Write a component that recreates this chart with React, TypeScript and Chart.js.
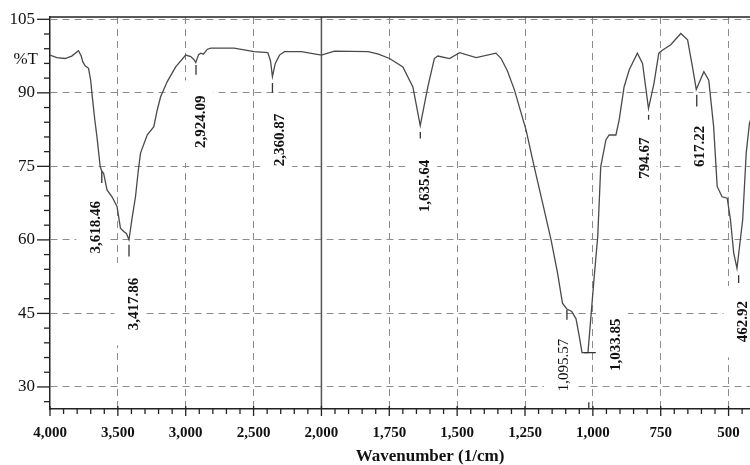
import { useEffect, useRef } from 'react';
import { Chart, LinearScale, registerables } from 'chart.js';

Chart.register(...registerables);

// Wavenumber axis: 4000-2000 compressed, below 2000 stretched x2 (usual FTIR layout)
const BREAK_AT = 2000;
const STRETCH = 2;

class SplitLinearScale extends LinearScale {
  static id = 'splitLinear';
  static defaults = LinearScale.defaults;

  span() {
    return (this.max - BREAK_AT) + STRETCH * (BREAK_AT - this.min);
  }

  getPixelForValue(value: number) {
    if (value === null || value === undefined || isNaN(value)) return NaN;
    const d = value >= BREAK_AT
      ? this.max - value
      : (this.max - BREAK_AT) + STRETCH * (BREAK_AT - value);
    return this.getPixelForDecimal(d / this.span());
  }

  getValueForPixel(pixel: number) {
    const d = this.getDecimalForPixel(pixel) * this.span();
    const head = this.max - BREAK_AT;
    return d <= head ? this.max - d : BREAK_AT - (d - head) / STRETCH;
  }
}
Chart.register(SplitLinearScale);

const FONT = '"Liberation Serif", "Times New Roman", serif';

// spectrum
const wavenumbers = [
  4000, 3950, 3889, 3840, 3790, 3770, 3758, 3741, 3716, 3700,
  3691, 3670, 3654, 3630, 3618, 3605, 3580, 3543, 3506, 3481,
  3457, 3437, 3418, 3395, 3370, 3350, 3333, 3284, 3235, 3210,
  3185, 3136, 3074, 3000, 2963, 2940, 2926, 2905, 2889, 2870,
  2840, 2815, 2644, 2496, 2395, 2375, 2361, 2340, 2309, 2272,
  2148, 2000, 1952, 1828, 1790, 1749, 1700, 1663, 1636, 1608,
  1584, 1571, 1528, 1491, 1430, 1357, 1338, 1315, 1289, 1246,
  1216, 1185, 1154, 1130, 1112, 1096, 1078, 1062, 1050, 1040,
  1018, 995, 982, 971, 952, 940, 915, 903, 885, 866,
  836, 817, 795, 775, 757, 744, 713, 676, 651, 633,
  619, 591, 573, 555, 542, 524, 505, 493, 481, 469,
  448, 435, 423, 417,
];
const transmittance = [
  97.7, 97.2, 97.0, 97.5, 98.6, 97.5, 96.3, 95.5, 95.0, 92.5,
  89.9, 84.5, 81.0, 74.9, 74.0, 73.6, 70.2, 68.8, 66.8, 62.4,
  61.7, 61.3, 60.0, 64.5, 68.8, 74.0, 77.7, 81.4, 83.1, 86.5,
  89.2, 92.3, 95.3, 97.7, 97.4, 96.8, 96.2, 97.8, 98.1, 97.9,
  98.9, 99.1, 99.1, 98.4, 98.2, 96.5, 93.3, 96.0, 97.7, 98.4,
  98.4, 97.7, 98.5, 98.4, 97.9, 97.0, 95.3, 91.2, 83.3, 91.2,
  97.0, 97.5, 97.0, 98.2, 97.2, 98.1, 97.0, 94.5, 90.6, 82.4,
  74.9, 67.5, 60.0, 53.2, 47.1, 45.9, 45.4, 43.9, 40.3, 37.0,
  37.0, 52.5, 60.7, 74.9, 80.4, 81.4, 81.4, 84.5, 91.2, 94.7,
  98.1, 96.0, 86.8, 91.9, 98.1, 98.7, 99.8, 102.1, 100.8, 95.3,
  90.7, 94.3, 92.6, 83.1, 70.9, 68.8, 68.5, 64.1, 57.3, 54.2,
  64.1, 77.7, 83.8, 84.8,
];

const xTickValues = [4000, 3500, 3000, 2500, 2000, 1750, 1500, 1250, 1000, 750, 500];
const yTickValues = [30, 45, 60, 75, 90, 105];

// peak annotations
const peakWavenumbers = [3618.46, 3417.86, 2924.09, 2360.87, 1635.64, 1095.57, 1033.85, 794.67, 617.22, 462.92];
const labelWn = [3659, 3378, 2885, 2304, 1618, 1107, 915, 809, 603, 445];
const labelT = [62.6, 46.9, 84.1, 80.4, 71.0, 34.5, 38.6, 76.7, 79.1, 43.3];
const lightLabels = [1095.57];
// marker segments [wn1, T1, wn2, T2]
const markSegments = [
  [3618.46, 74.0, 3618.46, 71.6],
  [3417.86, 59.0, 3417.86, 56.6],
  [2924.09, 95.7, 2924.09, 93.7],
  [2360.87, 92.0, 2360.87, 90.0],
  [1635.64, 82.0, 1635.64, 80.7],
  [1095.57, 45.7, 1095.57, 43.7],
  [1033.85, 37.0, 989, 37.0],
  [1015, 26.9, 1015, 25.5],
  [794.67, 85.5, 794.67, 84.5],
  [617.22, 89.6, 617.22, 87.2],
  [462.92, 52.8, 462.92, 51.2],
];

const fmtPeak = (v: number) => v.toLocaleString('en-US', { minimumFractionDigits: 2, maximumFractionDigits: 2 });
const peakFont = (v: number) => `${lightLabels.includes(v) ? '' : 'bold '}15px ${FONT}`;

const annotations = {
  id: 'ftirAnnotations',
  beforeDatasetsDraw(chart: any) {
    const { ctx, chartArea, scales: { x, y } } = chart;
    ctx.save();
    // white boxes behind peak labels (they cut the grid)
    ctx.fillStyle = '#fff';
    peakWavenumbers.forEach((p, i) => {
      ctx.font = peakFont(p);
      const len = ctx.measureText(fmtPeak(p)).width;
      const cx = x.getPixelForValue(labelWn[i]) - 4;
      const cy = y.getPixelForValue(labelT[i]);
      ctx.fillRect(cx - 16, cy - len / 2 - 15, 32, len + 30);
    });
    // solid divider at 2000
    const xb = x.getPixelForValue(BREAK_AT);
    ctx.strokeStyle = '#555';
    ctx.lineWidth = 1.5;
    ctx.beginPath();
    ctx.moveTo(xb, chartArea.top);
    ctx.lineTo(xb, chartArea.bottom);
    ctx.stroke();
    ctx.restore();
  },
  afterDatasetsDraw(chart: any) {
    const { ctx, scales: { x, y } } = chart;
    ctx.save();
    ctx.strokeStyle = '#333';
    ctx.lineWidth = 1.3;
    markSegments.forEach(([w1, t1, w2, t2]) => {
      ctx.beginPath();
      ctx.moveTo(x.getPixelForValue(w1), y.getPixelForValue(t1));
      ctx.lineTo(x.getPixelForValue(w2), y.getPixelForValue(t2));
      ctx.stroke();
    });
    ctx.fillStyle = '#111';
    ctx.textAlign = 'center';
    ctx.textBaseline = 'middle';
    peakWavenumbers.forEach((p, i) => {
      ctx.save();
      ctx.font = peakFont(p);
      ctx.translate(x.getPixelForValue(labelWn[i]), y.getPixelForValue(labelT[i]));
      ctx.rotate(-Math.PI / 2);
      ctx.fillText(fmtPeak(p), 0, 0);
      ctx.restore();
    });
    ctx.restore();
  },
  afterDraw(chart: any) {
    const { ctx, chartArea: { left, right, top, bottom }, scales: { x, y } } = chart;
    ctx.save();
    ctx.strokeStyle = '#222';
    ctx.lineWidth = 1.5;
    // top frame line
    ctx.beginPath();
    ctx.moveTo(left, top);
    ctx.lineTo(right, top);
    ctx.stroke();
    // y ticks, minor every 3
    ctx.lineWidth = 1.3;
    for (let v = 27; v <= 105; v += 3) {
      const py = y.getPixelForValue(v);
      const len = yTickValues.includes(v) ? 13 : 6;
      ctx.beginPath();
      ctx.moveTo(left - len, py);
      ctx.lineTo(left, py);
      ctx.stroke();
    }
    // x ticks, minor every 100 above 2000, every 50 below
    const xs: number[] = [];
    for (let v = 4000; v >= BREAK_AT; v -= 100) xs.push(v);
    for (let v = BREAK_AT - 50; v >= 400; v -= 50) xs.push(v);
    xs.forEach((v) => {
      const px = x.getPixelForValue(v);
      const major = xTickValues.includes(v);
      ctx.beginPath();
      ctx.moveTo(px, major ? bottom - 3 : bottom);
      ctx.lineTo(px, major ? bottom + 7 : bottom + 5);
      ctx.stroke();
    });
    // %T unit label on the y axis
    ctx.fillStyle = '#111';
    ctx.font = `17px ${FONT}`;
    ctx.textAlign = 'right';
    ctx.textBaseline = 'middle';
    ctx.fillText('%T', 38, y.getPixelForValue(96.7));
    ctx.restore();
  },
};

export default function App() {
  const canvasRef = useRef<HTMLCanvasElement>(null);

  useEffect(() => {
    if (!canvasRef.current) return;
    const chart = new Chart(canvasRef.current, {
      type: 'line',
      data: {
        datasets: [
          {
            label: '%T',
            data: wavenumbers.map((w, i) => ({ x: w, y: transmittance[i] })),
            borderColor: '#4a4a4a',
            backgroundColor: 'transparent',
            borderWidth: 1.3,
            pointRadius: 0,
            tension: 0,
          },
        ],
      },
      options: {
        animation: false,
        responsive: true,
        maintainAspectRatio: false,
        layout: { padding: { top: 17, left: 0, right: 0, bottom: 0 } },
        plugins: {
          legend: { display: false },
          tooltip: { enabled: false },
        },
        scales: {
          x: {
            type: 'splitLinear' as any,
            min: 200,
            max: 4000,
            afterBuildTicks: (s: any) => { s.ticks = xTickValues.map((v) => ({ value: v })); },
            afterFit: (s: any) => { s.height = 56; s.paddingLeft = 0; s.paddingRight = 0; },
            grid: {
              color: (c: any) => (c.tick && (c.tick.value === 4000 || c.tick.value === BREAK_AT) ? 'transparent' : '#8c8c8c'),
              lineWidth: 1,
              drawTicks: false,
            },
            border: { display: true, color: '#222', width: 1.5, dash: [7, 5] },
            ticks: {
              color: '#111',
              font: { family: FONT, size: 15, weight: 'bold' },
              padding: 15,
              maxRotation: 0,
              autoSkip: false,
              callback: (v: any) => Number(v).toLocaleString('en-US'),
            },
            title: {
              display: true,
              text: 'Wavenumber (1/cm)',
              color: '#111',
              font: { family: FONT, size: 17, weight: 'bold', lineHeight: 1 },
              padding: 0,
            },
          } as any,
          y: {
            min: 25.5,
            max: 105.47,
            afterBuildTicks: (s: any) => { s.ticks = yTickValues.map((v) => ({ value: v })); },
            afterFit: (s: any) => { s.width = 50; s.paddingTop = 0; s.paddingBottom = 0; },
            grid: { color: '#8c8c8c', lineWidth: 1, drawTicks: false },
            border: { display: true, color: '#222', width: 1.5, dash: [7, 5] },
            ticks: {
              color: '#111',
              font: { family: FONT, size: 17 },
              padding: 15,
              autoSkip: false,
            },
          },
        },
      },
      plugins: [annotations],
    });
    return () => { chart.destroy(); };
  }, []);

  return (
    <div style={{ position: 'fixed', left: 0, top: 0, width: 750, height: 465, overflow: 'hidden', background: '#fff' }}>
      <div style={{ position: 'relative', width: 810, height: 465 }}>
        <canvas ref={canvasRef} />
      </div>
    </div>
  );
}
